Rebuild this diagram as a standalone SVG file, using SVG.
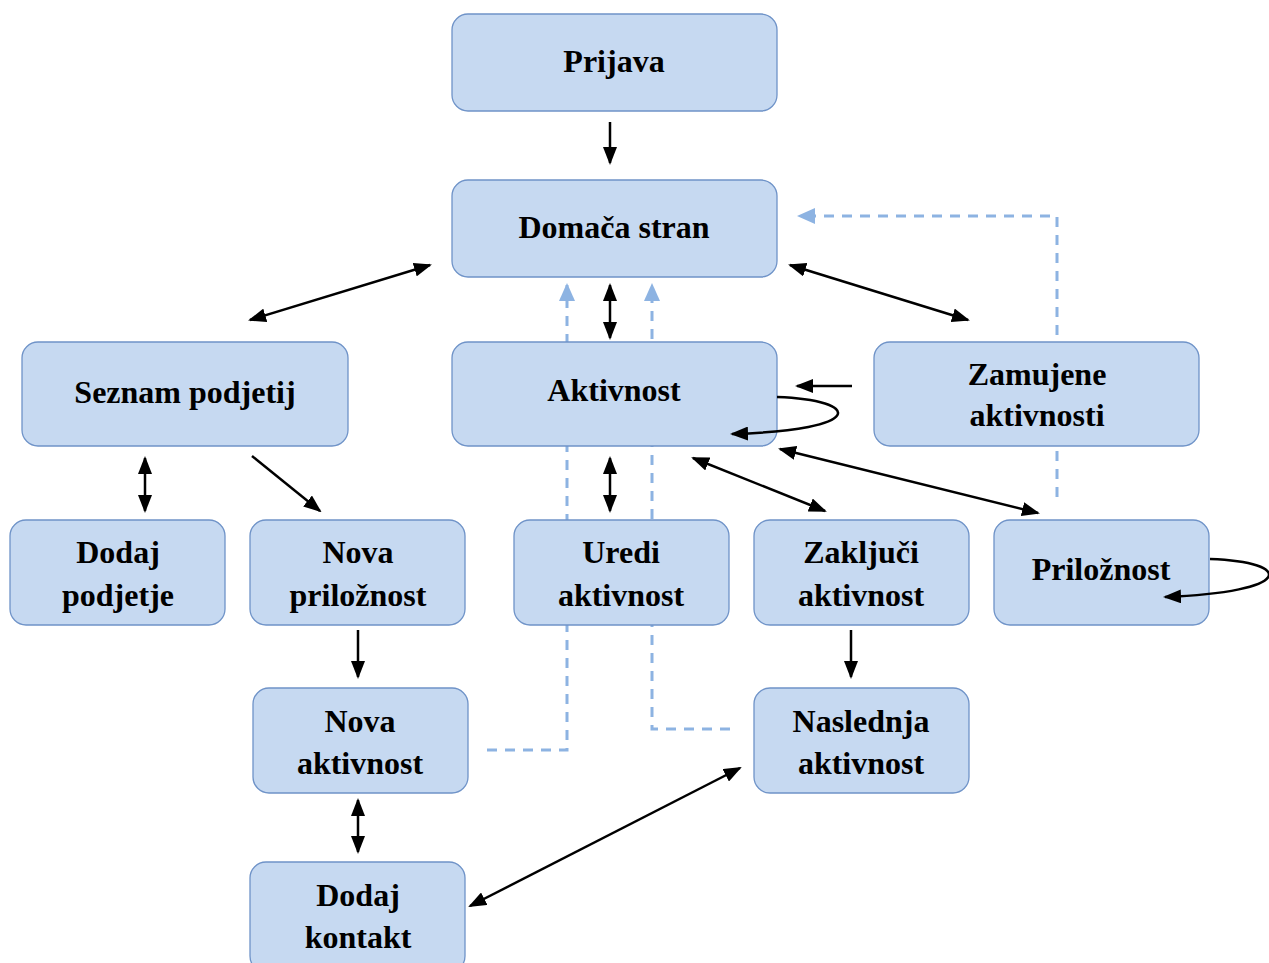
<svg xmlns="http://www.w3.org/2000/svg" width="1269" height="963" viewBox="0 0 1269 963">
<style>
.box{fill:#c6d9f1;stroke:#6f93c8;stroke-width:1.3}
.t{font-family:"Liberation Serif","Times New Roman",serif;font-weight:bold;font-size:32px;fill:#000;text-anchor:middle}
.a{fill:none;stroke:#000;stroke-width:2.5}
.d{fill:none;stroke:#8db3e2;stroke-width:3;stroke-dasharray:10 8}
</style>
<defs>
<marker id="ah" markerUnits="userSpaceOnUse" markerWidth="18" markerHeight="14" viewBox="0 0 18 14" refX="16" refY="7" orient="auto-start-reverse"><path d="M0,0 L18,7 L0,14 Z" fill="#000"/></marker>
<marker id="dh" markerUnits="userSpaceOnUse" markerWidth="18" markerHeight="16" viewBox="0 0 18 16" refX="16" refY="8" orient="auto"><path d="M0,0 L18,8 L0,16 Z" fill="#8db3e2"/></marker>
</defs>
<g id="connectors-dashed">
<path class="d" d="M487,750 H567 V285" marker-end="url(#dh)"/>
<path class="d" d="M730,729 H652 V285" marker-end="url(#dh)"/>
<path class="d" d="M1057,497 V216 H799" marker-end="url(#dh)"/>
</g>
<g id="prijava"><rect class="box" x="452" y="14" width="325" height="97" rx="16"/><text class="t" x="614" y="72">Prijava</text></g>
<g id="domaca"><rect class="box" x="452" y="180" width="325" height="97" rx="16"/><text class="t" x="614" y="238">Domača stran</text></g>
<g id="seznam"><rect class="box" x="22" y="342" width="326" height="104" rx="16"/><text class="t" x="185" y="403">Seznam podjetij</text></g>
<g id="aktivnost"><rect class="box" x="452" y="342" width="325" height="104" rx="16"/><text class="t" x="614" y="401">Aktivnost</text></g>
<g id="zamujene"><rect class="box" x="874" y="342" width="325" height="104" rx="16"/><text class="t" x="1037" y="385">Zamujene</text><text class="t" x="1037" y="426">aktivnosti</text></g>
<g id="dodaj-podjetje"><rect class="box" x="10" y="520" width="215" height="105" rx="16"/><text class="t" x="118" y="563">Dodaj</text><text class="t" x="118" y="606">podjetje</text></g>
<g id="nova-priloznost"><rect class="box" x="250" y="520" width="215" height="105" rx="16"/><text class="t" x="358" y="563">Nova</text><text class="t" x="358" y="606">priložnost</text></g>
<g id="uredi"><rect class="box" x="514" y="520" width="215" height="105" rx="16"/><text class="t" x="621" y="563">Uredi</text><text class="t" x="621" y="606">aktivnost</text></g>
<g id="zakljuci"><rect class="box" x="754" y="520" width="215" height="105" rx="16"/><text class="t" x="861" y="563">Zaključi</text><text class="t" x="861" y="606">aktivnost</text></g>
<g id="priloznost"><rect class="box" x="994" y="520" width="215" height="105" rx="16"/><text class="t" x="1101" y="580">Priložnost</text></g>
<g id="nova-aktivnost"><rect class="box" x="253" y="688" width="215" height="105" rx="16"/><text class="t" x="360" y="732">Nova</text><text class="t" x="360" y="774">aktivnost</text></g>
<g id="naslednja"><rect class="box" x="754" y="688" width="215" height="105" rx="16"/><text class="t" x="861" y="732">Naslednja</text><text class="t" x="861" y="774">aktivnost</text></g>
<g id="dodaj-kontakt"><rect class="box" x="250" y="862" width="215" height="110" rx="16"/><text class="t" x="358" y="906">Dodaj</text><text class="t" x="358" y="948">kontakt</text></g>
<g id="connectors">
<path class="a" d="M610,122 V163" marker-end="url(#ah)"/>
<path class="a" d="M430,265 L250,320" marker-start="url(#ah)" marker-end="url(#ah)"/>
<path class="a" d="M610,285 V338" marker-start="url(#ah)" marker-end="url(#ah)"/>
<path class="a" d="M790,265 L968,320" marker-start="url(#ah)" marker-end="url(#ah)"/>
<path class="a" d="M852,386 H797" marker-end="url(#ah)"/>
<path class="a" d="M777,397 C862,400 868,430 732,434" marker-end="url(#ah)"/>
<path class="a" d="M145,458 V511" marker-start="url(#ah)" marker-end="url(#ah)"/>
<path class="a" d="M252,456 L320,511" marker-end="url(#ah)"/>
<path class="a" d="M610,458 V511" marker-start="url(#ah)" marker-end="url(#ah)"/>
<path class="a" d="M693,458 L825,511" marker-start="url(#ah)" marker-end="url(#ah)"/>
<path class="a" d="M780,449 L1038,513" marker-start="url(#ah)" marker-end="url(#ah)"/>
<path class="a" d="M1210,559 C1295,562 1295,592 1165,597" marker-end="url(#ah)"/>
<path class="a" d="M358,630 V677" marker-end="url(#ah)"/>
<path class="a" d="M851,630 V677" marker-end="url(#ah)"/>
<path class="a" d="M358,800 V852" marker-start="url(#ah)" marker-end="url(#ah)"/>
<path class="a" d="M470,906 L740,768" marker-start="url(#ah)" marker-end="url(#ah)"/>
</g>
</svg>
